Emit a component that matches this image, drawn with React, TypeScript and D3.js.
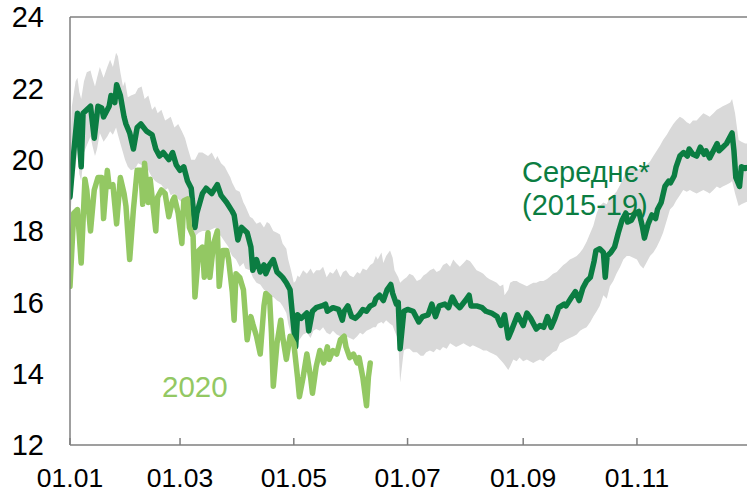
import React from "react";
import * as d3 from "d3";

// ---- data (day of year, 0 = 1 Jan) ----
const avgDays = [0,2,4,6,7,9,11,13,15,17,18,21,22,24,25,27,29,30,32,34,36,38,41,44,46,48,50,53,55,57,59,61,63,65,67,68,71,73,76,79,81,84,87,88,90,92,95,97,98,100,102,104,105,107,109,111,113,114,116,118,119,121,122,124,127,128,130,132,135,137,138,141,144,146,147,149,151,153,155,157,159,161,163,164,166,168,170,172,173,175,176,177,179,181,184,187,189,192,194,196,198,201,203,205,207,209,212,214,215,218,221,223,226,229,231,233,235,237,240,241,243,245,247,250,252,254,256,258,260,262,265,266,269,271,273,275,277,279,281,282,284,286,287,288,290,292,294,296,298,299,301,303,305,307,308,310,312,314,315,317,319,321,322,324,325,327,329,331,332,334,336,338,340,341,343,345,347,348,350,352,354,355,356,357,359,360,362,364];
const avgValues = [18.95,20.2,21.3,19.8,21.3,21.4,21.5,20.6,21.5,21.45,21.2,21.5,21.8,21.6,22.1,21.8,21.2,21.0,20.75,20.3,20.9,21.0,20.8,20.7,20.3,20.1,20.2,20.0,20.2,19.85,19.7,19.8,19.4,19.2,18.1,18.5,19.05,19.2,19.05,19.3,19.0,18.8,18.55,18.45,17.75,18.1,17.95,17.55,16.9,17.2,16.85,17.05,16.8,17.05,17.2,16.85,16.75,16.7,16.55,16.35,15.8,14.75,15.65,15.55,15.7,15.2,15.75,15.85,15.9,15.95,15.75,15.85,15.8,15.5,15.75,15.9,15.6,15.55,15.65,15.8,15.75,15.9,15.95,16.1,16.2,16.05,16.35,16.5,16.25,15.95,16.0,14.7,15.75,15.8,15.75,15.45,15.6,15.65,15.95,15.6,15.9,15.95,15.85,16.15,15.95,15.85,16.05,16.2,15.9,15.9,15.85,15.75,15.7,15.6,15.35,15.65,15.0,15.25,15.65,15.55,15.35,15.7,15.55,15.25,15.35,15.3,15.6,15.3,15.55,15.85,15.95,15.9,16.15,16.3,16.05,16.4,16.6,16.7,17.15,17.45,17.5,17.4,16.7,17.3,17.4,17.55,17.95,18.3,18.5,18.25,18.3,18.5,18.55,18.1,17.8,18.2,18.45,18.35,18.6,18.8,19.25,19.4,19.35,19.55,19.8,20.1,20.2,20.1,20.3,20.15,20.1,20.35,20.15,20.25,20.05,20.25,20.45,20.25,20.35,20.45,20.65,20.75,20.25,19.5,19.25,19.8,19.75,19.8];

const bandDays = [0,1,3,4,5,6,7.5,9,11,12,13.4,14.5,16,18,20,21.5,23,24.7,25.7,27,28.4,29.5,31,32.7,35,36.5,38.4,40,42,44,45.6,47,49,51,52.5,54,56,58,60,61.7,63,65,67,69,71,74,76,78,79,81,83,85,86,87,89,91,93,94,96.5,98,100,102,104,105.6,107,109,111,112.6,114,116,117,118.5,120,121,122,123,125,127,129,130.5,132,134,135.7,137.6,139.4,141,143,145,146.4,148,150,152,154,155.5,157,159,161,162.6,164,165,167,168,169.5,171.6,173,174,176,177,179,180.5,182,184,186,188,189.5,191,193,195,196.6,198.4,200,202,203.8,205.5,207,209,211,212.7,214.5,216,218,220,221.6,223.4,225,227,228.8,230.6,232.3,233,235,236,237.7,239.5,241,243,245,246.6,248.4,250,252,253.8,255.6,257,259,261,262.7,264.5,266,268,270,271.7,273.5,275,277,279,280.6,282.4,284,286,287.8,289.5,291.3,293,295,296.7,298.5,300,302,304,305.6,307.4,309,311,312.8,314.6,316.4,318,320,321.7,323.5,325,327,328.8,330.7,332.4,334,336,337.8,339.6,341.4,343,345,346.8,348.5,350,352,354,355,356.6,358.5,360,362,364.6];
const bandUpper = [20.0,21.5,22.2,22.3,21.9,21.7,22.2,22.45,22.5,22.3,22.05,22.3,22.6,22.3,22.6,22.8,22.6,23.0,22.9,22.45,22.05,22.2,21.75,21.8,21.85,22.0,22.05,21.7,21.8,21.4,21.5,21.3,21.4,21.1,21.15,21.2,20.9,21.0,20.8,20.6,20.35,20.0,20.0,20.2,20.2,20.1,20.2,20.0,20.1,19.9,19.8,19.6,19.5,19.35,19.15,19.1,18.8,18.7,18.4,18.35,18.2,18.25,18.1,18.25,18.2,18.0,17.95,17.9,17.65,17.5,17.2,16.9,16.55,16.6,16.75,16.7,16.9,16.8,16.95,16.8,16.9,16.9,17.0,16.7,16.85,16.8,16.95,16.7,16.85,16.9,16.75,16.7,16.85,16.8,16.95,16.9,17.05,17.1,17.3,17.2,17.4,17.1,17.3,17.45,17.25,16.9,16.7,16.55,16.65,16.7,16.8,16.75,16.6,16.65,16.75,16.8,16.9,16.95,16.85,16.9,17.05,17.1,17.0,17.2,17.1,17.0,17.1,17.2,17.15,17.05,16.9,16.85,16.8,16.7,16.65,16.6,16.55,16.45,16.5,16.2,16.35,16.55,16.6,16.6,16.55,16.5,16.45,16.5,16.55,16.55,16.6,16.6,16.65,16.7,16.8,16.85,16.95,17.05,17.1,17.2,17.25,17.3,17.4,17.5,17.7,17.95,18.15,18.5,18.7,18.8,18.75,18.95,19.0,19.1,19.3,19.5,19.7,19.8,19.75,19.7,19.75,19.8,19.85,19.95,20.1,20.25,20.4,20.55,20.7,20.85,21.0,21.1,21.2,21.15,21.05,21.0,21.1,21.1,21.2,21.3,21.25,21.2,21.3,21.4,21.45,21.5,21.55,21.6,21.7,21.3,20.55,20.5,20.45,20.45];
const bandLower = [18.3,19.0,19.8,20.3,19.6,19.4,20.2,20.4,20.65,20.4,20.1,20.3,20.75,20.5,20.65,20.8,20.7,20.9,20.7,20.45,20.2,20.0,19.8,19.7,19.75,19.9,19.85,19.8,19.7,19.5,19.4,19.35,19.3,19.15,19.2,19.0,19.05,18.9,18.8,18.6,18.4,18.1,17.85,17.95,18.0,18.0,18.05,18.1,17.95,17.85,17.7,17.55,17.4,17.3,17.2,17.0,17.1,16.95,16.9,16.7,16.55,16.5,16.35,16.3,16.15,16.15,16.05,16.0,15.9,15.7,15.4,15.1,14.7,14.65,14.9,14.95,15.1,15.15,15.0,15.2,15.25,15.2,15.3,15.15,15.1,15.2,15.1,15.05,14.9,15.05,15.0,14.95,15.05,15.15,15.1,15.2,15.25,15.3,15.3,15.4,15.45,15.4,15.5,15.4,15.35,15.2,14.95,13.75,14.65,14.7,14.7,14.6,14.6,14.5,14.5,14.6,14.65,14.6,14.7,14.65,14.75,14.7,14.85,14.8,14.75,14.8,14.85,14.8,14.75,14.8,14.75,14.7,14.65,14.65,14.6,14.55,14.5,14.4,14.3,14.25,14.1,14.2,14.4,14.35,14.45,14.35,14.4,14.35,14.3,14.35,14.4,14.35,14.45,14.5,14.6,14.65,14.85,14.9,14.95,15.0,15.05,15.1,15.2,15.25,15.3,15.45,15.6,15.75,15.9,16.2,16.1,16.45,16.6,16.8,17.0,17.2,17.3,17.3,17.25,17.2,17.05,16.95,17.1,17.3,17.4,17.55,17.75,17.95,18.3,18.6,18.7,18.85,19.0,19.15,19.1,19.15,19.1,19.05,19.1,19.15,19.1,19.05,19.15,19.25,19.2,19.25,19.3,19.35,19.4,19.05,18.7,18.75,18.8,18.85];

const days2020 = [0,2,4,6,8,9,11,13,15,17,18,20,21,23,25,27,29,30,32,34,36,38,39,40,42,43,46,47,49,51,53,55,56,58,60,61,63,64,66,67,69,71,72,74,75,77,79,80,82,84,85,87,88,89,91,93,95,97,98,100,102,104,105,107,108,109,111,113,114,116,118,120,122,123,125,127,129,130,132,134,136,138,139,141,143,145,147,148,150,152,154,155,157,159,160,161];
const values2020 = [16.45,18.5,18.6,17.1,19.45,19.15,18.0,19.15,19.5,19.5,18.35,19.7,19.25,19.3,18.2,19.5,19.05,18.7,17.2,18.6,19.7,19.7,18.75,19.9,18.8,19.45,18.0,18.95,19.15,19.05,18.4,18.85,18.95,18.5,17.65,18.85,18.9,18.1,17.85,16.15,17.45,17.55,16.7,17.95,16.7,17.65,18.0,16.45,17.45,17.45,17.2,16.3,15.5,16.8,16.7,16.35,14.95,15.6,15.4,15.05,14.55,15.9,16.25,16.15,15.15,13.65,14.85,15.5,15.05,14.4,15.05,14.85,13.9,13.35,13.9,14.55,13.9,13.45,14.2,14.65,14.3,14.75,14.4,14.65,14.55,14.95,15.05,14.75,14.45,14.55,14.3,14.45,13.9,13.1,13.9,14.3];

const xTickDays = [0, 59, 120, 181, 243, 304];
const xTickLabels = ["01.01", "01.03", "01.05", "01.07", "01.09", "01.11"];
const yTicks = [12, 14, 16, 18, 20, 22, 24];

const W = 747, H = 493;
const DARK = "#0b7d42";
const LIGHT = "#93c863";
const BAND = "#d9d9d9";
const AXIS = "#7f7f7f";
const FONT = "'Liberation Sans', Arial, sans-serif";

export default function App() {
  const x = d3.scaleLinear().domain([0, 365]).range([70, 70 + 365 * 1.865]);
  const y = d3.scaleLinear().domain([12, 24]).range([445, 17]);

  const avgPts = avgDays.map((d, i) => [d, avgValues[i]] as [number, number]);
  const pts2020 = days2020.map((d, i) => [d, values2020[i]] as [number, number]);
  const bandPts = bandDays.map((d, i) => ({ d, u: bandUpper[i], l: bandLower[i] }));

  const line = d3.line<[number, number]>().x(p => x(p[0])).y(p => y(p[1]));
  const area = d3.area<{ d: number; u: number; l: number }>()
    .x(p => x(p.d)).y0(p => y(p.l)).y1(p => y(p.u));

  const x0 = x(0), y0 = y(12), yTop = y(24), xEnd = x(365);

  return (
    <svg width={W} height={H} style={{ position: "absolute", left: 0, top: 0 }}
      fontFamily={FONT}>
      <rect x={0} y={0} width={W} height={H} fill="#fff" />
      <defs>
        <clipPath id="plot">
          <rect x={x0} y={yTop - 10} width={xEnd - x0} height={y0 - yTop + 10} />
        </clipPath>
      </defs>
      <g clipPath="url(#plot)">
        <path d={area(bandPts) || ""} fill={BAND} />
        <path d={line(avgPts) || ""} fill="none" stroke={DARK} strokeWidth={5.5}
          strokeLinejoin="round" strokeLinecap="round" />
        <path d={line(pts2020) || ""} fill="none" stroke={LIGHT} strokeWidth={5.5}
          strokeLinejoin="round" strokeLinecap="round" />
      </g>
      {/* frame */}
      <line x1={x0} x2={W} y1={yTop} y2={yTop} stroke={AXIS} strokeWidth={1.5} />
      <line x1={x0} x2={x0} y1={yTop} y2={y0} stroke={AXIS} strokeWidth={1.5} />
      <line x1={x0} x2={W} y1={y0} y2={y0} stroke={AXIS} strokeWidth={1.5} />
      {xTickDays.map((d, i) => (
        <g key={i}>
          <line x1={x(d)} x2={x(d)} y1={y0} y2={y0 - 7} stroke={AXIS} strokeWidth={1.5} />
          <text x={x(d)} y={487} textAnchor="middle" fontSize={26.5} fill="#000">
            {xTickLabels[i]}
          </text>
        </g>
      ))}
      {yTicks.map(t => (
        <text key={t} x={44} y={y(t) + 10.3} textAnchor="end" fontSize={29} fill="#000">
          {t}
        </text>
      ))}
      <text x={522} y={182} fontSize={29} fill={DARK}>Середнє*</text>
      <text x={522} y={215} fontSize={29} fill={DARK}>(2015-19)</text>
      <text x={162} y={397} fontSize={29.5} fill={LIGHT}>2020</text>
    </svg>
  );
}
